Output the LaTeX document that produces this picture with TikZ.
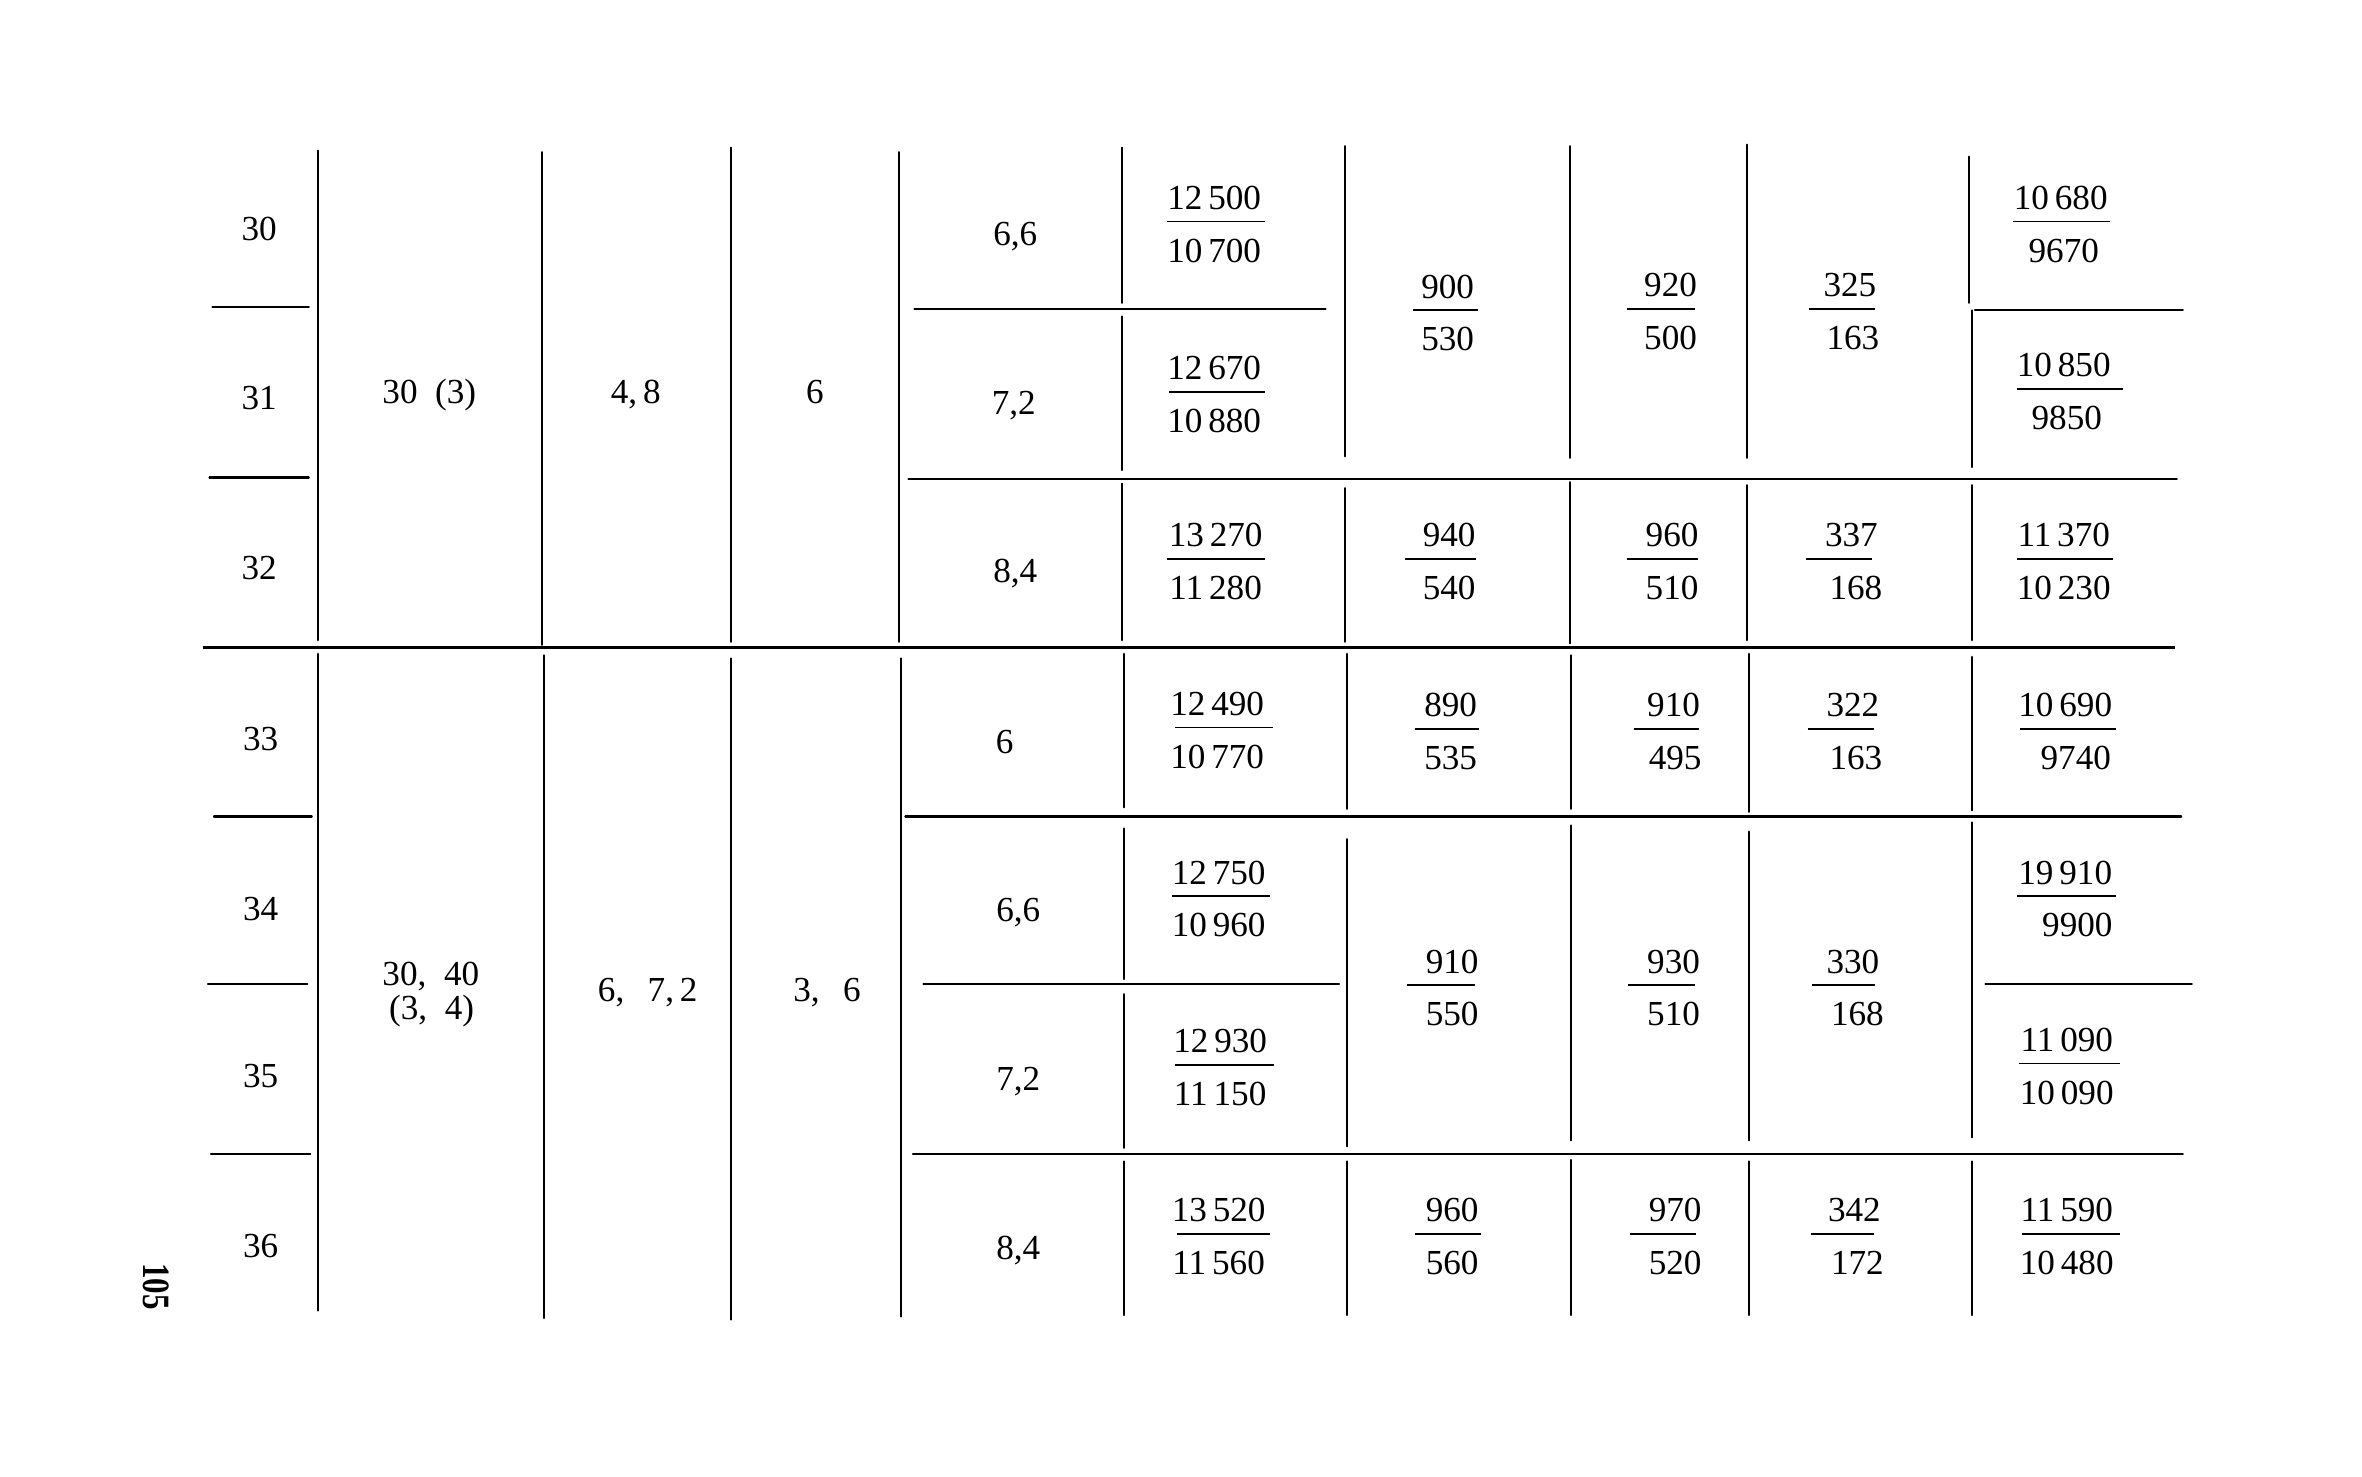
\documentclass[tikz,border=0pt]{standalone}
\usepackage{fontspec}
\setmainfont{Liberation Serif}
\begin{document}
\begin{tikzpicture}[x=0.015064cm,y=-0.015064cm,
  txt/.style={inner sep=0pt,font=\fontsize{10}{12}\selectfont,text height=6.8pt,text depth=0pt},
  rule/.style={line width=0.6pt,line cap=round},
  heavy/.style={line width=0.9pt},
  bar/.style={line width=0.5pt}]
\useasboundingbox (0,0) rectangle (1568,980);
% fraction: name, x num, x den, y bar, num, den, bar x1, bar x2
\newcommand\fr[8]{%
  \node[txt] (#1n) at (#2,#4-16) {#5};
  \node[txt] (#1d) at (#3,#4+19) {#6};
  \draw[bar] (#7,#4) -- (#8,#4);}
% ---- vertical rules ----
\draw[rule] (211,100)--(211,425) (211,434)--(211,870);
\draw[rule] (360,101)--(360,428) (361,435)--(361,875);
\draw[rule] (485,98)--(485,426) (485,437)--(485,876);
\draw[rule] (597,101)--(597,426) (598,437)--(598,874);
\draw[rule] (745,98)--(745,201) (745,210)--(745,312) (745,321)--(745,425)
            (746,434)--(746,536) (746,550)--(746,650) (746,660)--(746,762) (746,771)--(746,873);
\draw[rule] (893,97)--(893,303) (893,324)--(893,426)
            (894,434)--(894,537) (894,557)--(894,761) (894,771)--(894,873);
\draw[rule] (1042,97)--(1042,304) (1042,320)--(1042,427)
            (1043,435)--(1043,537) (1043,548)--(1043,757) (1043,770)--(1043,873);
\draw[rule] (1160,96)--(1160,304) (1160,322)--(1160,425)
            (1161,434)--(1161,539) (1161,552)--(1161,757) (1161,771)--(1161,873);
\draw[rule] (1307,104)--(1307,201) (1309,206)--(1309,310) (1309,322)--(1309,425)
            (1309,436)--(1309,538) (1309,546)--(1309,755) (1309,771)--(1309,873);
% ---- horizontal rules ----
\draw[rule] (141,204)--(205,204) (139,317)--(205,317)
            (142,542)--(207,542) (138,653)--(204,653) (140,766)--(206,766);
\draw[heavy] (135,430)--(1444,430);
\draw[rule] (607,205)--(880,205) (1311,206)--(1449,206) (603,318)--(1445,318);
\draw[rule] (601,542)--(1448,542) (613,653)--(889,653) (1318,653)--(1455,653) (606,766)--(1449,766);
% ---- row numbers ----
\node[txt] (r30) at (172,152) {30};
\node[txt] (r31) at (172,264) {31};
\node[txt] (r32) at (172,377) {32};
\node[txt] (r33) at (173,490) {33};
\node[txt] (r34) at (173,603) {34};
\node[txt] (r35) at (173,714) {35};
\node[txt] (r36) at (173,827) {36};
% ---- merged cells ----
\node[txt] (g1a) at (285,260) {30\enspace(3)};
\node[txt] (g1b) at (422,260) {4,\,8};
\node[txt] (g1c) at (541,260) {6};
\node[txt] (g2a) at (286,646) {30,\enspace 40};
\node[txt] (g2b) at (286.5,669) {(3,\enspace 4)};
\node[txt] (g2c) at (430,657) {6,\enspace\,7,\,2};
\node[txt] (g2d) at (549,657) {3,\enspace\,6};
% ---- column 5 ----
\node[txt] (v30) at (674,155) {6,6};
\node[txt] (v31) at (673,267) {7,2};
\node[txt] (v32) at (674,379) {8,4};
\node[txt] (v33) at (667,492) {6};
\node[txt] (v34) at (676,604) {6,6};
\node[txt] (v35) at (676,716) {7,2};
\node[txt] (v36) at (676,828) {8,4};
% ---- fractions, top block ----
\fr{a1}{806}{806}{147}{12\,500}{10\,700}{775}{840}
\fr{a2}{806}{806}{260}{12\,670}{10\,880}{776}{840}
\fr{a3}{807}{807}{371}{13\,270}{11\,280}{775}{840}
\fr{b1}{961}{961}{206}{900}{530}{938}{981}
\fr{b3}{962}{962}{371}{940}{540}{933}{980}
\fr{c1}{1109}{1109}{205}{920}{500}{1080}{1125}
\fr{c3}{1110}{1110}{371}{960}{510}{1080}{1127}
\fr{d1}{1228}{1230}{205}{325}{163}{1201}{1245}
\fr{d3}{1229}{1232}{371}{337}{168}{1199}{1243}
\fr{e1}{1368}{1370}{147}{10\,680}{9670}{1336}{1401}
\fr{e2}{1370}{1372}{258}{10\,850}{9850}{1339}{1409}
\fr{e3}{1370}{1370}{371}{11\,370}{10\,230}{1339}{1403}
% ---- fractions, bottom block ----
\fr{a4}{808}{808}{483}{12\,490}{10\,770}{780}{845}
\fr{a5}{809}{809}{595}{12\,750}{10\,960}{778}{843}
\fr{a6}{810}{810}{707}{12\,930}{11\,150}{780}{846}
\fr{a7}{809}{809}{819}{13\,520}{11\,560}{781}{843}
\fr{b4}{963}{963}{484}{890}{535}{939}{982}
\fr{b5}{964}{964}{654}{910}{550}{934}{979}
\fr{b7}{964}{964}{819}{960}{560}{939}{983}
\fr{c4}{1111}{1112}{484}{910}{495}{1085}{1128}
\fr{c5}{1111}{1111}{654}{930}{510}{1081}{1125}
\fr{c7}{1112}{1112}{819}{970}{520}{1082}{1126}
\fr{d4}{1230}{1232}{484}{322}{163}{1200}{1244}
\fr{d5}{1230}{1233}{654}{330}{168}{1203}{1245}
\fr{d7}{1231}{1233}{819}{342}{172}{1202}{1244}
\fr{e4}{1371}{1378}{484}{10\,690}{9740}{1341}{1405}
\fr{e5}{1371}{1379}{595}{19\,910}{9900}{1339}{1405}
\fr{e6}{1372}{1372}{706}{11\,090}{10\,090}{1340}{1407}
\fr{e7}{1372}{1372}{819}{11\,590}{10\,480}{1342}{1407}
% ---- page number ----
\node[inner sep=0pt,rotate=-90] (pg) at (104,854) {\fontsize{11}{13}\selectfont\bfseries\scalebox{0.8}[1]{105}};
\end{tikzpicture}
\end{document}
